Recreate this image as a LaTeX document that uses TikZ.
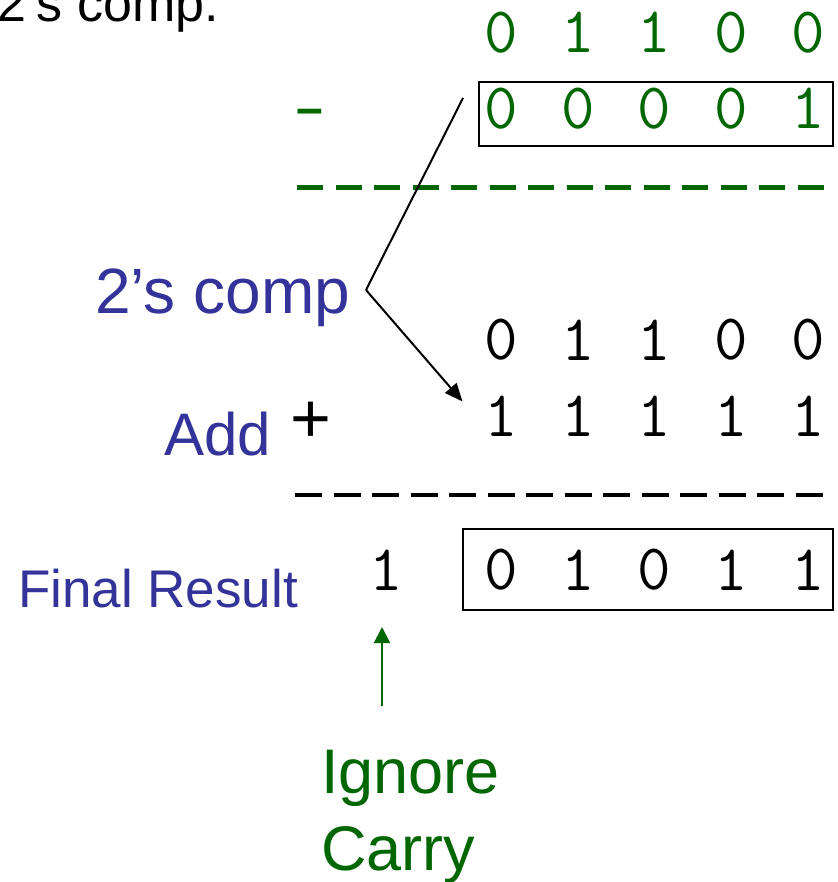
\documentclass[tikz,border=0pt]{standalone}
\usepackage{fontspec}
\newfontfamily\arial{Liberation Sans}
\usetikzlibrary{arrows.meta}
\definecolor{myblue}{RGB}{51,51,153}
\definecolor{mygreen}{RGB}{0,102,0}
\tikzset{
  dig/.style={inner sep=0pt, anchor=center, font=\ttfamily\fontsize{65}{78}\selectfont},
  lbl/.style={inner sep=0pt, anchor=base west},
  resbox/.style={draw=black, line width=2.5pt, inner sep=0pt},
  conn/.style={draw=black, line width=2pt},
}
\begin{document}
\begin{tikzpicture}[x=1pt,y=-1pt]
\useasboundingbox (0,0) rectangle (837,882);
\fill[white] (0,0) rectangle (837,882);

% title cut off at top
\node[lbl, font=\arial\fontsize{52}{62}\selectfont] (title) at (-3,22) {2’s comp.};

% row 1 (green)
\foreach \v [count=\i] in {0,1,1,0,0} {
  \node[dig, text=mygreen] (a\i) at ({501+76.8*(\i-1)},32.5) {\v};
}
% row 2 (green, boxed)
\foreach \v [count=\i] in {0,0,0,0,1} {
  \node[dig, text=mygreen] (b\i) at ({501+76.8*(\i-1)},108.5) {\v};
}
\node[resbox, minimum width=354pt, minimum height=64pt] (box1) at (656,114) {};
\node[lbl, font=\arial\bfseries\fontsize{48}{58}\selectfont, text=mygreen] (minus) at (296,125) {–};

% green dashed line
\draw[mygreen, line width=5pt, dash pattern=on 26pt off 12.5pt] (297,188) -- (824,188);

% 2's comp label
\node[lbl, font=\arial\fontsize{64}{76}\selectfont, text=myblue] (comp) at (95,313) {2’s comp};

% row 3 (black)
\foreach \v [count=\i] in {0,1,1,0,0} {
  \node[dig] (c\i) at ({501+76.8*(\i-1)},340) {\v};
}
% row 4
\foreach \v [count=\i] in {1,1,1,1,1} {
  \node[dig] (d\i) at ({501+76.8*(\i-1)},416.5) {\v};
}
\node[lbl, font=\arial\fontsize{60}{72}\selectfont, text=myblue] (add) at (164,455) {Add};
\node[lbl, font=\arial\fontsize{70}{84}\selectfont] (plus) at (290.5,442.5) {+};

% connector from subtrahend to complemented row
\coordinate (lstart) at (463,98);
\coordinate (vertex) at (366,290);
\coordinate (ltip) at (462.5,401.5);
\draw[conn] (lstart) -- (vertex);
\draw[conn, -{Triangle[length=18pt, width=15pt]}] (vertex) -- (ltip);

% black dashed line
\draw[black, line width=4.5pt, dash pattern=on 27pt off 11.5pt] (295,495) -- (823,495);

% result row
\node[lbl, font=\arial\fontsize{53}{64}\selectfont, text=myblue] (final) at (18,607) {Final Result};
\node[dig] (carry) at (386,570) {1};
\foreach \v [count=\i] in {0,1,0,1,1} {
  \node[dig] (e\i) at ({501+76.8*(\i-1)},570) {\v};
}
\node[resbox, minimum width=370pt, minimum height=81pt] (box2) at (648,569.5) {};

% ignore carry
\coordinate (gtail) at (382,706);
\coordinate (gtip) at (382,627);
\draw[mygreen, line width=2pt, -{Triangle[length=16pt, width=16pt]}] (gtail) -- (gtip);
\node[lbl, font=\arial\fontsize{63}{77}\selectfont, text=mygreen] (ignore) at (321,793) {Ignore};
\node[lbl, font=\arial\fontsize{63}{77}\selectfont, text=mygreen] (carrytxt) at (321,870) {Carry};
\end{tikzpicture}
\end{document}
